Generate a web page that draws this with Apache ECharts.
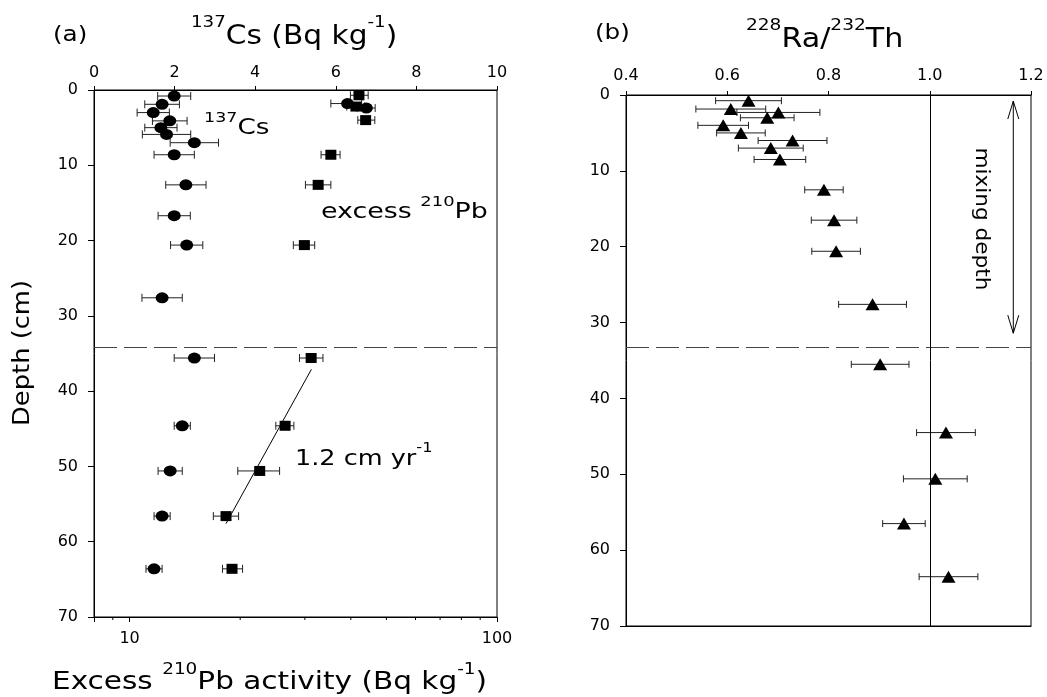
<!DOCTYPE html>
<html><head><meta charset="utf-8">
<script src="https://cdn.jsdelivr.net/npm/echarts@6/dist/echarts.min.js"></script>
<style>html,body{margin:0;padding:0;background:#fff}#c{width:1047px;height:697px}</style>
</head><body><div id="c"></div>
<script>
// ---- Panel (a): 137Cs (top linear axis) ----
const csDepth = [0.8, 1.9, 3.0, 4.1, 5.0, 5.9, 7.0, 8.6, 12.6, 16.7, 20.6, 27.6, 35.6, 44.6, 50.6, 56.6, 63.6];
const csValue = [1.99, 1.69, 1.47, 1.88, 1.66, 1.80, 2.49, 1.99, 2.28, 1.99, 2.30, 1.69, 2.49, 2.19, 1.89, 1.69, 1.49];
const csError = [0.41, 0.43, 0.40, 0.43, 0.40, 0.60, 0.60, 0.50, 0.50, 0.40, 0.40, 0.50, 0.50, 0.20, 0.30, 0.20, 0.20];

// ---- Panel (a): excess 210Pb (bottom log axis) ----
const pbDepth = [0.7, 2.2, 4.0, 8.6, 12.6, 20.6, 35.6, 44.6, 50.6, 56.6, 63.6];
const pbValue = [42.1, 41.3, 43.9, 35.3, 32.6, 29.9, 31.2, 26.5, 22.6, 18.3, 19.0];
const pbLow   = [39.9, 39.0, 41.8, 33.2, 30.1, 27.9, 29.0, 25.0, 19.7, 16.9, 17.9];
const pbHigh  = [44.6, 43.6, 46.5, 37.4, 35.3, 31.9, 33.6, 28.0, 25.6, 19.8, 20.3];
// two near-surface points drawn with circle markers
const pbCircDepth = [1.8, 2.4];
const pbCircValue = [39.2, 44.1];
const pbCircLow   = [35.3, 41.6];
const pbCircHigh  = [42.8, 46.6];
// sedimentation-rate fit line (1.2 cm/yr)
const fitValue = [31.25, 18.3];
const fitDepth = [37.1, 57.6];
const pbMinorTicks = [9, 20, 30, 40, 50, 60, 70, 80, 90];
const boundaryDepthA = 34.2;

// ---- Panel (b): 228Ra/232Th ----
const raDepth = [0.75, 1.85, 2.3, 3.0, 4.0, 5.0, 6.0, 7.0, 8.5, 12.5, 16.5, 20.6, 27.6, 35.5, 44.5, 50.6, 56.5, 63.5];
const raValue = [0.642, 0.607, 0.701, 0.679, 0.592, 0.627, 0.729, 0.686, 0.704, 0.791, 0.811, 0.815, 0.887, 0.902, 1.032, 1.011, 0.949, 1.037];
const raError = [0.065, 0.069, 0.082, 0.053, 0.050, 0.048, 0.068, 0.064, 0.051, 0.038, 0.045, 0.048, 0.067, 0.057, 0.058, 0.063, 0.042, 0.058];
const boundaryDepthB = 33.3;
const equilibriumRatio = 1.0;
const mixArrowX = 1.165;
const mixTop = 0.8;
const mixBottom = 31.4;

const depthTicks = { min: 0, max: 70, interval: 10 };
const csTicks = { min: 0, max: 10, interval: 2 };
const pbRange = { min: 8, max: 100 };
const raTicks = { min: 0.4, max: 1.2, interval: 0.2 };

const F = 'DejaVu Sans';
const chart = echarts.init(document.getElementById('c'), null, { renderer: 'canvas' });

function errRender(capHalf) {
  return function (params, api) {
    const lo = api.value(0), hi = api.value(1), d = api.value(2);
    const p1 = api.coord([lo, d]), p2 = api.coord([hi, d]);
    const st = { stroke: '#222', lineWidth: 1 };
    return { type: 'group', children: [
      { type: 'line', shape: { x1: p1[0], y1: p1[1], x2: p2[0], y2: p2[1] }, style: st },
      { type: 'line', shape: { x1: p1[0], y1: p1[1] - capHalf, x2: p1[0], y2: p1[1] + capHalf }, style: st },
      { type: 'line', shape: { x1: p2[0], y1: p2[1] - capHalf, x2: p2[0], y2: p2[1] + capHalf }, style: st }
    ]};
  };
}

const axisLine = { show: true, lineStyle: { color: '#000', width: 1 } };
const lbl = { color: '#000', fontFamily: F, fontSize: 16 };
const mark = { color: '#000', opacity: 1 };

const supP = (fs, pad) => ({ fontSize: fs, fontFamily: F, fill: '#000', padding: [0, 0, pad, 0] });

function rt(x, y, text, fs, sfs, pad, sx) {
  return {
    type: 'text', x: x, y: y, scaleX: sx, silent: true,
    style: {
      text: text, fill: '#000', fontFamily: F, fontSize: fs,
      textAlign: 'left', textVerticalAlign: 'bottom',
      rich: { n: { fontSize: fs, fontFamily: F, fill: '#000' }, s: supP(sfs, pad) }
    }
  };
}

const option = {
  animation: false,
  backgroundColor: '#fff',
  textStyle: { fontFamily: F },
  grid: [
    { left: 94, top: 90, width: 403, height: 527, show: true, borderColor: '#000', borderWidth: 1, backgroundColor: 'transparent' },
    { left: 626, top: 95, width: 405, height: 531, show: true, borderColor: '#000', borderWidth: 1, backgroundColor: 'transparent' }
  ],
  xAxis: [
    { gridIndex: 0, type: 'value', position: 'top', min: csTicks.min, max: csTicks.max, interval: csTicks.interval,
      axisLine: axisLine, axisTick: { show: true, length: 4, lineStyle: { color: '#000' } },
      axisLabel: Object.assign({ margin: 9 }, lbl), splitLine: { show: false } },
    { gridIndex: 0, type: 'log', logBase: 10, position: 'bottom', min: pbRange.min, max: pbRange.max,
      axisLine: axisLine, axisTick: { show: true, length: 5, lineStyle: { color: '#000' } },
      axisLabel: Object.assign({ margin: 14, formatter: v => (Math.abs(v - 10) < 1e-6 || Math.abs(v - 100) < 1e-6) ? String(Math.round(v)) : '' }, lbl),
      splitLine: { show: false }, minorTick: { show: false }, minorSplitLine: { show: false } },
    { gridIndex: 1, type: 'value', position: 'top', min: raTicks.min, max: raTicks.max, interval: raTicks.interval,
      axisLine: axisLine, axisTick: { show: true, length: 4, lineStyle: { color: '#000' } },
      axisLabel: Object.assign({ margin: 11, formatter: v => v.toFixed(1) }, lbl), splitLine: { show: false } },
    { gridIndex: 1, type: 'value', position: 'bottom', min: raTicks.min, max: raTicks.max, interval: raTicks.interval,
      axisLine: axisLine, axisTick: { show: false }, axisLabel: { show: false }, splitLine: { show: false } }
  ],
  yAxis: [
    { gridIndex: 0, type: 'value', inverse: true, min: depthTicks.min, max: depthTicks.max, interval: depthTicks.interval,
      axisLine: axisLine, axisTick: { show: true, length: 6, lineStyle: { color: '#000' } },
      axisLabel: Object.assign({ margin: 16 }, lbl), splitLine: { show: false } },
    { gridIndex: 1, type: 'value', inverse: true, min: depthTicks.min, max: depthTicks.max, interval: depthTicks.interval,
      axisLine: axisLine, axisTick: { show: true, length: 6, lineStyle: { color: '#000' } },
      axisLabel: Object.assign({ margin: 16 }, lbl), splitLine: { show: false } }
  ],
  series: [
    // Cs error bars + points
    { type: 'custom', xAxisIndex: 0, yAxisIndex: 0, z: 2, clip: false,
      data: csDepth.map((d, i) => [csValue[i] - csError[i], csValue[i] + csError[i], d]),
      encode: { x: [0, 1], y: 2 }, renderItem: errRender(4) },
    { type: 'scatter', xAxisIndex: 0, yAxisIndex: 0, z: 4, symbol: 'circle', symbolSize: [13, 11],
      itemStyle: mark, data: csDepth.map((d, i) => [csValue[i], d]),
      markLine: { silent: true, symbol: 'none', label: { show: false },
        lineStyle: { color: '#444', width: 1, type: [23, 7] }, data: [{ yAxis: boundaryDepthA }] } },
    // Pb error bars + points
    { type: 'custom', xAxisIndex: 1, yAxisIndex: 0, z: 2, clip: false,
      data: pbDepth.map((d, i) => [pbLow[i], pbHigh[i], d]).concat(pbCircDepth.map((d, i) => [pbCircLow[i], pbCircHigh[i], d])),
      encode: { x: [0, 1], y: 2 }, renderItem: errRender(4) },
    { type: 'scatter', xAxisIndex: 1, yAxisIndex: 0, z: 4, symbol: 'rect', symbolSize: [11, 10],
      itemStyle: mark, data: pbDepth.map((d, i) => [pbValue[i], d]) },
    { type: 'scatter', xAxisIndex: 1, yAxisIndex: 0, z: 4, symbol: 'circle', symbolSize: [13, 11],
      itemStyle: mark, data: pbCircDepth.map((d, i) => [pbCircValue[i], d]) },
    { type: 'line', xAxisIndex: 1, yAxisIndex: 0, z: 3, symbol: 'none', lineStyle: { color: '#000', width: 1 },
      data: fitValue.map((v, i) => [v, fitDepth[i]]) },
    // minor ticks of the log axis
    { type: 'custom', xAxisIndex: 1, yAxisIndex: 0, z: 2, clip: false, silent: true,
      data: pbMinorTicks.map(v => [v, depthTicks.max]), encode: { x: 0, y: 1 },
      renderItem: function (params, api) {
        const p = api.coord([api.value(0), api.value(1)]);
        return { type: 'line', shape: { x1: p[0], y1: p[1], x2: p[0], y2: p[1] + 3 }, style: { stroke: '#000', lineWidth: 1 } };
      } },
    // Ra/Th error bars + points
    { type: 'custom', xAxisIndex: 2, yAxisIndex: 1, z: 2, clip: false,
      data: raDepth.map((d, i) => [raValue[i] - raError[i], raValue[i] + raError[i], d]),
      encode: { x: [0, 1], y: 2 }, renderItem: errRender(3.5) },
    { type: 'scatter', xAxisIndex: 2, yAxisIndex: 1, z: 4, symbol: 'triangle', symbolSize: [14, 12],
      itemStyle: mark, data: raDepth.map((d, i) => [raValue[i], d]),
      markLine: { silent: true, symbol: 'none', label: { show: false }, data: [
        { yAxis: boundaryDepthB, lineStyle: { color: '#444', width: 1, type: [23, 7] } },
        { xAxis: equilibriumRatio, lineStyle: { color: '#000', width: 1, type: 'solid' } }
      ] } },
    // mixing depth double arrow
    { type: 'custom', xAxisIndex: 2, yAxisIndex: 1, z: 3, clip: false, silent: true,
      data: [[mixArrowX, mixTop, mixBottom]], encode: { x: 0, y: [1, 2] },
      renderItem: function (params, api) {
        const a = api.coord([api.value(0), api.value(1)]);
        const b = api.coord([api.value(0), api.value(2)]);
        const st = { stroke: '#000', lineWidth: 1, fill: null };
        const hl = 18, hw = 5.5;
        return { type: 'group', children: [
          { type: 'line', shape: { x1: a[0], y1: a[1], x2: b[0], y2: b[1] }, style: st },
          { type: 'polyline', shape: { points: [[a[0] - hw, a[1] + hl], [a[0], a[1]], [a[0] + hw, a[1] + hl]] }, style: st },
          { type: 'polyline', shape: { points: [[b[0] - hw, b[1] - hl], [b[0], b[1]], [b[0] + hw, b[1] - hl]] }, style: st }
        ]};
      } }
  ],
  graphic: [
    { type: 'text', x: 53, y: 35, scaleX: 1.12, silent: true,
      style: { text: '(a)', fill: '#000', fontFamily: F, fontSize: 22, textAlign: 'left', textVerticalAlign: 'middle' } },
    rt(191, 59, '{s|137}{n|Cs (Bq kg}{s|-1}{n|)}', 26, 16, 28, 1.14),
    { type: 'text', x: 595, y: 33, scaleX: 1.12, silent: true,
      style: { text: '(b)', fill: '#000', fontFamily: F, fontSize: 22, textAlign: 'left', textVerticalAlign: 'middle' } },
    rt(746, 62, '{s|228}{n|Ra/}{s|232}{n|Th}', 26, 16, 28, 1.16),
    rt(204, 147, '{s|137}{n|Cs}', 21, 14, 22, 1.25),
    rt(321, 231, '{n|excess }{s|210}{n|Pb}', 21, 14, 22, 1.28),
    rt(295, 477, '{n|1.2 cm yr}{s|-1}', 22, 14, 22, 1.16),
    rt(52, 702, '{n|Excess }{s|210}{n|Pb activity (Bq kg}{s|-1}{n|)}', 24, 15, 24, 1.23),
    { type: 'text', x: 23, y: 353, rotation: Math.PI / 2, scaleX: 1.12, silent: true,
      style: { text: 'Depth (cm)', fill: '#000', fontFamily: F, fontSize: 23, textAlign: 'center', textVerticalAlign: 'middle' } },
    { type: 'text', x: 981, y: 219, rotation: -Math.PI / 2, scaleX: 1.08, silent: true,
      style: { text: 'mixing depth', fill: '#000', fontFamily: F, fontSize: 20, textAlign: 'center', textVerticalAlign: 'middle' } }
  ]
};
chart.setOption(option);
</script>
</body></html>
